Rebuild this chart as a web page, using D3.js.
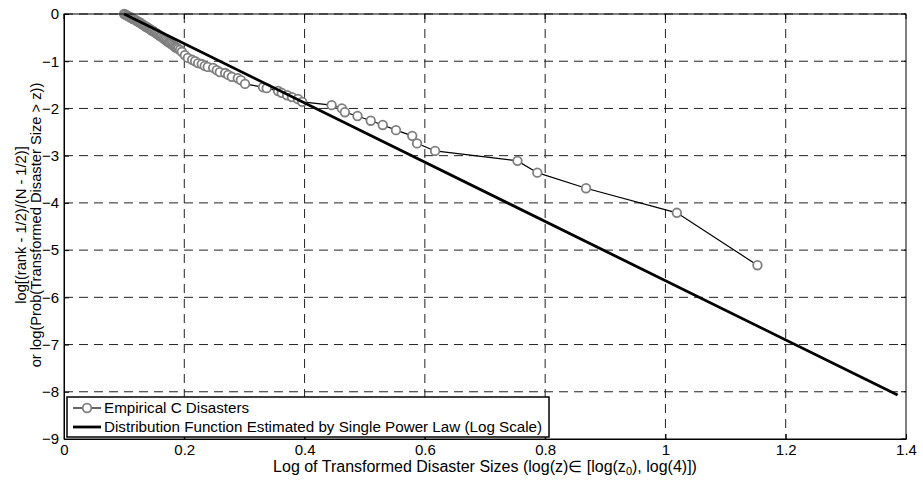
<!DOCTYPE html>
<meta charset="utf-8">
<script src="https://d3js.org/d3.v7.min.js"></script>
<style>
  body { margin: 0; background: #fff; }
  text { font-family: "Liberation Sans", Arial, sans-serif; }
</style>
<div id="chart"></div>
<script>

var empX = [0.100, 0.102, 0.104, 0.106, 0.108, 0.110, 0.112, 0.114, 0.116, 0.118,
            0.120, 0.122, 0.124, 0.126, 0.128, 0.130, 0.132, 0.134, 0.136, 0.138,
            0.140, 0.142, 0.144, 0.146, 0.148, 0.150, 0.152, 0.154, 0.156, 0.158,
            0.160, 0.162, 0.164, 0.166, 0.168, 0.170, 0.172, 0.174, 0.176, 0.178,
            0.180, 0.182, 0.184, 0.186, 0.188, 0.190,
            0.193, 0.196, 0.201, 0.206, 0.213, 0.218, 0.223, 0.229, 0.234, 0.239, 0.248,
            0.254, 0.259, 0.268, 0.273, 0.279, 0.289, 0.294, 0.301, 0.331, 0.337,
            0.356, 0.362, 0.371, 0.379, 0.389, 0.396,
            0.445, 0.462, 0.467, 0.488, 0.510, 0.530, 0.552, 0.579, 0.587, 0.617,
            0.754, 0.787, 0.868, 1.019, 1.153];
var empY = [0.00, -0.01, -0.03, -0.04, -0.05, -0.07, -0.08, -0.10, -0.11, -0.12,
            -0.14, -0.15, -0.17, -0.18, -0.20, -0.22, -0.23, -0.25, -0.27, -0.28,
            -0.30, -0.31, -0.33, -0.35, -0.36, -0.38, -0.40, -0.41, -0.43, -0.45,
            -0.47, -0.48, -0.50, -0.52, -0.54, -0.56, -0.58, -0.60, -0.61, -0.63,
            -0.65, -0.67, -0.69, -0.71, -0.72, -0.74,
            -0.76, -0.80, -0.87, -0.93, -0.97, -1.00, -1.04, -1.06, -1.10, -1.12, -1.14,
            -1.19, -1.23, -1.25, -1.29, -1.33, -1.36, -1.40, -1.48, -1.55, -1.57,
            -1.63, -1.67, -1.72, -1.76, -1.80, -1.86,
            -1.93, -2.00, -2.08, -2.16, -2.26, -2.35, -2.46, -2.58, -2.74, -2.90,
            -3.11, -3.36, -3.69, -4.21, -5.32];

var powerX = [0.100, 1.386];
var powerY = [0.00, -8.07];

var xTicks = [0, 0.2, 0.4, 0.6, 0.8, 1, 1.2, 1.4];
var yTicks = [0, -1, -2, -3, -4, -5, -6, -7, -8, -9];

var legendNames = ["Empirical C Disasters",
                   "Distribution Function Estimated by Single Power Law (Log Scale)"];

var W = 923, H = 484;
var margin = {top: 14, right: 17, bottom: 45, left: 64};
var width = W - margin.left - margin.right,
    height = H - margin.top - margin.bottom;

var svg = d3.select("#chart").append("svg")
    .attr("width", W)
    .attr("height", H);

var g = svg.append("g")
    .attr("transform", "translate(" + margin.left + "," + margin.top + ")");

var x = d3.scaleLinear().domain([0, 1.4]).range([0, width]);
var y = d3.scaleLinear().domain([-9, 0]).range([height, 0]);

// grid
g.append("g").selectAll("line")
  .data(xTicks.slice(1, -1))
  .enter().append("line")
    .attr("x1", function(d) { return x(d); })
    .attr("x2", function(d) { return x(d); })
    .attr("y1", 0).attr("y2", height)
    .attr("stroke", "#222").attr("stroke-dasharray", "9,6");

g.append("g").selectAll("line")
  .data(yTicks.slice(0, -1))
  .enter().append("line")
    .attr("y1", function(d) { return y(d); })
    .attr("y2", function(d) { return y(d); })
    .attr("x1", 0).attr("x2", width)
    .attr("stroke", "#222").attr("stroke-dasharray", "9,6");

// axes
var xAxis = d3.axisBottom(x).tickValues(xTicks).tickSizeInner(-5).tickSizeOuter(0)
    .tickPadding(7).tickFormat(d3.format("~g"));
var yAxis = d3.axisLeft(y).tickValues(yTicks).tickSizeInner(-5).tickSizeOuter(0)
    .tickPadding(5).tickFormat(d3.format("~g"));

var gx = g.append("g")
    .attr("transform", "translate(0," + height + ")")
    .call(xAxis);
var gy = g.append("g").call(yAxis);

[gx, gy].forEach(function(a) {
  a.select(".domain").attr("stroke", "#000");
  a.selectAll(".tick line").attr("stroke", "#000");
  a.selectAll(".tick text")
    .style("font-family", "'Liberation Sans', Arial, sans-serif")
    .style("font-size", "15px").attr("fill", "#000");
});
gx.selectAll(".tick text").attr("dy", "0.6em");

// top and right ticks
g.append("g").selectAll("line").data(xTicks).enter().append("line")
    .attr("x1", function(d) { return x(d); }).attr("x2", function(d) { return x(d); })
    .attr("y1", 0).attr("y2", 5).attr("stroke", "#000");
g.append("g").selectAll("line").data(yTicks).enter().append("line")
    .attr("y1", function(d) { return y(d); }).attr("y2", function(d) { return y(d); })
    .attr("x1", width).attr("x2", width - 5).attr("stroke", "#000");

// empirical
var empData = empX.map(function(d, i) { return [d, empY[i]]; });
g.append("path")
    .datum(empData)
    .attr("fill", "none")
    .attr("stroke", "#000")
    .attr("stroke-width", 1.2)
    .attr("d", d3.line().x(function(d) { return x(d[0]); }).y(function(d) { return y(d[1]); }));

g.append("g").selectAll("circle")
  .data(empData)
  .enter().append("circle")
    .attr("cx", function(d) { return x(d[0]); })
    .attr("cy", function(d) { return y(d[1]); })
    .attr("r", 4.3)
    .attr("fill", "#fff")
    .attr("stroke", "#7f7f7f")
    .attr("stroke-width", 1.8);

// power law fit, drawn over the markers
var powerData = powerX.map(function(d, i) { return [d, powerY[i]]; });
g.append("path")
    .datum(powerData)
    .attr("fill", "none")
    .attr("stroke", "#000")
    .attr("stroke-width", 2.8)
    .attr("d", d3.line().x(function(d) { return x(d[0]); }).y(function(d) { return y(d[1]); }));

// box
g.append("rect")
    .attr("width", width).attr("height", height)
    .attr("fill", "none").attr("stroke", "#000");

// legend
var lg = g.append("g").attr("transform", "translate(3," + (height - 42) + ")");
lg.append("rect")
    .attr("width", 482).attr("height", 40)
    .attr("fill", "#fff").attr("stroke", "#000").attr("stroke-width", 1.5);

lg.append("line").attr("x1", 6).attr("x2", 34).attr("y1", 11).attr("y2", 11)
    .attr("stroke", "#000").attr("stroke-width", 1.2);
lg.append("circle").attr("cx", 20).attr("cy", 11).attr("r", 4.3)
    .attr("fill", "#fff").attr("stroke", "#7f7f7f").attr("stroke-width", 1.8);
lg.append("line").attr("x1", 6).attr("x2", 34).attr("y1", 30).attr("y2", 30)
    .attr("stroke", "#000").attr("stroke-width", 2.8);

lg.selectAll(".lt")
  .data(legendNames)
  .enter().append("text")
    .attr("class", "lt")
    .attr("x", 37)
    .attr("y", function(d, i) { return 11 + i * 19; })
    .attr("dy", "0.35em")
    .style("font-size", "15.2px")
    .text(function(d) { return d; });

// axis labels
var xl = svg.append("text")
    .attr("x", 485)
    .attr("y", 472)
    .attr("text-anchor", "middle")
    .style("font-size", "16px");
xl.append("tspan").text("Log of Transformed Disaster Sizes (log(z)\u2208 [log(z");
xl.append("tspan").attr("baseline-shift", "-30%").style("font-size", "11px").text("0");
xl.append("tspan").text("), log(4)])");

var yl = svg.append("text")
    .attr("transform", "translate(26,225) rotate(-90)")
    .attr("text-anchor", "middle")
    .style("font-size", "14.7px");
yl.append("tspan").attr("x", 0).attr("y", 0).text("log[(rank - 1/2)/(N - 1/2)]");
yl.append("tspan").attr("x", 0).attr("y", 14.5).text("or log(Prob(Transformed Disaster Size > z))");

</script>
